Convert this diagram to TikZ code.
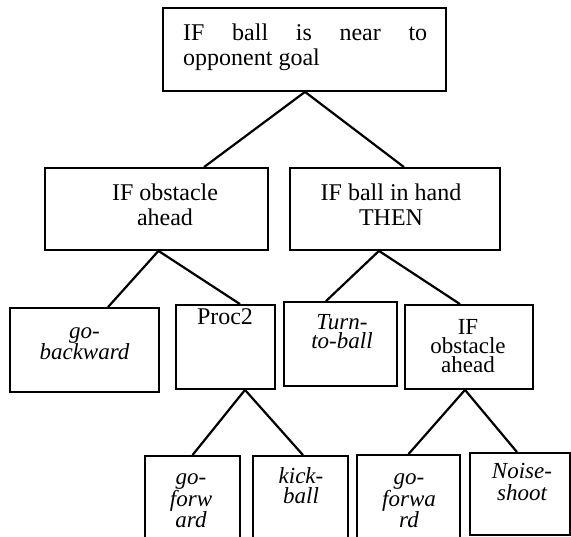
\documentclass[tikz,border=0pt]{standalone}
\usepackage{fontspec}
\setmainfont{Liberation Serif}
\tikzset{
  box/.style={draw, line width=1.8pt, inner sep=0pt},
  txt/.style={anchor=north, inner sep=0pt, align=center, font=\fontsize{24}{24.5}\selectfont},
  midtxt/.style={txt, font=\fontsize{23}{19}\selectfont},
  itxt/.style={txt, font=\fontsize{23}{19}\selectfont\itshape},
  link/.style={line width=2.2pt},
}
\begin{document}
\begin{tikzpicture}[x=1pt, y=-1pt]
            \clip (0,0) rectangle (571,537);

            % Boxes
            \node[box, minimum width=283pt, minimum height=83pt] (goal) at (304.5,49.5) {};
            \node[box, minimum width=223pt, minimum height=82pt] (obs) at (156.5,209) {};
            \node[box, minimum width=210pt, minimum height=82pt] (hand) at (395,209) {};
            \node[box, minimum width=149pt, minimum height=84pt] (back) at (84.5,350) {};
            \node[box, minimum width=99pt, minimum height=84pt] (proc) at (225.5,347) {};
            \node[box, minimum width=113pt, minimum height=84pt] (turn) at (340.5,344) {};
            \node[box, minimum width=128pt, minimum height=84pt] (obstwo) at (469,347) {};
            \node[box, minimum width=95pt, minimum height=120pt] (fwd) at (192.5,516) {};
            \node[box, minimum width=95pt, minimum height=120pt] (kick) at (300.5,516) {};
            \node[box, minimum width=103pt, minimum height=120pt] (fwdtwo) at (408.5,515) {};
            \node[box, minimum width=100pt, minimum height=82pt] (noise) at (520,494) {};

            % Texts
            \node[txt, anchor=north west, align=left] (goaltxt) at (183,24) {\makebox[244pt][s]{IF ball is near to}\\opponent goal};
            \node[txt] (obstxt) at (165,184) {IF obstacle\\ahead};
            \node[txt] (handtxt) at (391,184) {IF ball in hand\\THEN};
            \node[itxt, font=\fontsize{23}{18.5}\selectfont\itshape] (backtxt) at (84.5,327) {go-\\backward};
            \node[txt] (proctxt) at (225,308) {Proc2};
            \node[itxt] (turntxt) at (342,314) {Turn-\\to-ball};
            \node[midtxt] (obstwotxt) at (468,319) {IF\\obstacle\\ahead};
            \node[itxt, font=\fontsize{23}{20}\selectfont\itshape] (fwdtxt) at (191,473) {go-\\forw\\ard};
            \node[itxt, font=\fontsize{23}{20}\selectfont\itshape] (kicktxt) at (301,467) {kick-\\ball};
            \node[itxt, font=\fontsize{23}{20}\selectfont\itshape] (fwdtwotxt) at (409,473) {go-\\forwa\\rd};
            \node[itxt, font=\fontsize{23}{22}\selectfont\itshape] (noisetxt) at (522,463) {Noise-\\shoot};

            % Edges
            \draw[link] ([xshift=0.5pt]goal.south) -- ([xshift=47.5pt]obs.north);
            \draw[link] ([xshift=0.5pt]goal.south) -- ([xshift=9pt]hand.north);
            \draw[link] ([xshift=2pt]obs.south) -- ([xshift=23.5pt]back.north);
            \draw[link] ([xshift=2pt]obs.south) -- ([xshift=14.5pt]proc.north);
            \draw[link] ([xshift=-16pt]hand.south) -- ([xshift=-14.5pt]turn.north);
            \draw[link] ([xshift=-16pt]hand.south) -- ([xshift=-9pt]obstwo.north);
            \draw[link] ([xshift=19.5pt]proc.south) -- (fwd.north);
            \draw[link] ([xshift=19.5pt]proc.south) -- ([xshift=2.5pt]kick.north);
            \draw[link] ([xshift=-4pt]obstwo.south) -- (fwdtwo.north);
            \draw[link] ([xshift=-4pt]obstwo.south) -- ([xshift=-3pt]noise.north);
        \end{tikzpicture}
\end{document}
